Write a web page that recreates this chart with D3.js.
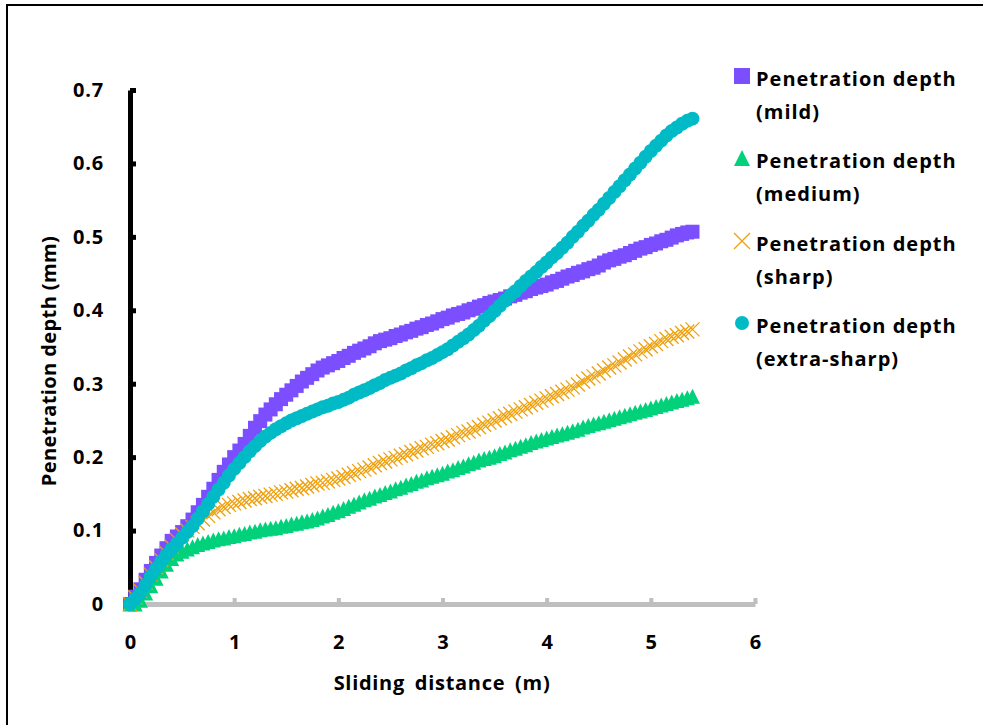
<!DOCTYPE html>
<html>
<head>
<meta charset="utf-8">
<script src="https://cdn.jsdelivr.net/npm/d3@7"></script>
<style>
  body { margin: 0; background: #fff; }
  svg text { font-family: "Open Sans", "Noto Sans", sans-serif; font-weight: bold; fill: #000; }
</style>
</head>
<body>
<div id="chart"></div>
<script>

// sliding distance (m), one row per half metre
const distance = [
  0, 0.05, 0.1, 0.15, 0.2, 0.25, 0.3, 0.35, 0.4, 0.45,
  0.5, 0.55, 0.6, 0.65, 0.7, 0.75, 0.8, 0.85, 0.9, 0.95,
  1.0, 1.05, 1.1, 1.15, 1.2, 1.25, 1.3, 1.35, 1.4, 1.45,
  1.5, 1.55, 1.6, 1.65, 1.7, 1.75, 1.8, 1.85, 1.9, 1.95,
  2.0, 2.05, 2.1, 2.15, 2.2, 2.25, 2.3, 2.35, 2.4, 2.45,
  2.5, 2.55, 2.6, 2.65, 2.7, 2.75, 2.8, 2.85, 2.9, 2.95,
  3.0, 3.05, 3.1, 3.15, 3.2, 3.25, 3.3, 3.35, 3.4, 3.45,
  3.5, 3.55, 3.6, 3.65, 3.7, 3.75, 3.8, 3.85, 3.9, 3.95,
  4.0, 4.05, 4.1, 4.15, 4.2, 4.25, 4.3, 4.35, 4.4, 4.45,
  4.5, 4.55, 4.6, 4.65, 4.7, 4.75, 4.8, 4.85, 4.9, 4.95,
  5.0, 5.05, 5.1, 5.15, 5.2, 5.25, 5.3, 5.35, 5.4
];

// penetration depth (mm)
const mild = [
  0, 0.01, 0.02, 0.033, 0.045, 0.056, 0.066, 0.076, 0.086, 0.092,
  0.098, 0.106, 0.115, 0.125, 0.135, 0.146, 0.157, 0.169, 0.18, 0.19,
  0.2, 0.209, 0.218, 0.229, 0.24, 0.249, 0.258, 0.265, 0.272, 0.279,
  0.285, 0.291, 0.297, 0.303, 0.308, 0.313, 0.318, 0.322, 0.325, 0.328,
  0.331, 0.335, 0.338, 0.342, 0.345, 0.348, 0.351, 0.355, 0.358, 0.36,
  0.362, 0.365, 0.367, 0.37, 0.372, 0.375, 0.377, 0.38, 0.382, 0.385,
  0.388, 0.39, 0.393, 0.395, 0.397, 0.4, 0.402, 0.405, 0.407, 0.41,
  0.412, 0.414, 0.416, 0.419, 0.421, 0.424, 0.426, 0.429, 0.431, 0.433,
  0.435, 0.438, 0.44, 0.443, 0.446, 0.448, 0.451, 0.453, 0.456, 0.458,
  0.461, 0.465, 0.468, 0.47, 0.473, 0.475, 0.478, 0.481, 0.484, 0.486,
  0.489, 0.491, 0.494, 0.496, 0.499, 0.502, 0.504, 0.506, 0.507
];

const medium = [
  0, 0, 0.005, 0.015, 0.025, 0.035, 0.045, 0.054, 0.062, 0.068,
  0.072, 0.075, 0.078, 0.081, 0.083, 0.085, 0.087, 0.089, 0.09, 0.092,
  0.093, 0.095, 0.096, 0.098, 0.099, 0.101, 0.102, 0.103, 0.104, 0.106,
  0.107, 0.109, 0.11, 0.112, 0.113, 0.115, 0.117, 0.12, 0.122, 0.125,
  0.127, 0.13, 0.133, 0.136, 0.139, 0.142, 0.144, 0.147, 0.149, 0.152,
  0.154, 0.157, 0.159, 0.162, 0.164, 0.167, 0.169, 0.172, 0.174, 0.176,
  0.178, 0.181, 0.183, 0.186, 0.188, 0.191, 0.193, 0.196, 0.198, 0.2,
  0.202, 0.205, 0.207, 0.21, 0.212, 0.215, 0.217, 0.22, 0.222, 0.224,
  0.226, 0.228, 0.23, 0.232, 0.234, 0.236, 0.238, 0.241, 0.243, 0.245,
  0.247, 0.249, 0.251, 0.253, 0.255, 0.257, 0.259, 0.261, 0.263, 0.265,
  0.267, 0.269, 0.271, 0.273, 0.275, 0.277, 0.279, 0.281, 0.283
];

const sharp = [
  0, 0.009, 0.018, 0.029, 0.04, 0.05, 0.06, 0.069, 0.078, 0.087,
  0.095, 0.1, 0.105, 0.11, 0.115, 0.12, 0.125, 0.129, 0.132, 0.135,
  0.137, 0.139, 0.141, 0.143, 0.144, 0.146, 0.147, 0.149, 0.15, 0.152,
  0.153, 0.155, 0.157, 0.158, 0.16, 0.162, 0.164, 0.165, 0.167, 0.169,
  0.171, 0.173, 0.176, 0.178, 0.181, 0.183, 0.186, 0.189, 0.192, 0.194,
  0.197, 0.199, 0.202, 0.204, 0.207, 0.209, 0.212, 0.214, 0.217, 0.219,
  0.222, 0.224, 0.227, 0.23, 0.233, 0.235, 0.238, 0.241, 0.244, 0.247,
  0.25, 0.253, 0.256, 0.259, 0.262, 0.265, 0.268, 0.271, 0.274, 0.277,
  0.28, 0.283, 0.286, 0.289, 0.292, 0.295, 0.299, 0.303, 0.307, 0.31,
  0.314, 0.318, 0.322, 0.325, 0.329, 0.333, 0.337, 0.34, 0.344, 0.347,
  0.351, 0.354, 0.358, 0.361, 0.364, 0.366, 0.369, 0.371, 0.374
];

const extraSharp = [
  0, 0.007, 0.015, 0.026, 0.038, 0.048, 0.058, 0.067, 0.075, 0.082,
  0.09, 0.098, 0.106, 0.116, 0.126, 0.136, 0.146, 0.156, 0.165, 0.175,
  0.184, 0.192, 0.2, 0.208, 0.215, 0.222, 0.228, 0.233, 0.238, 0.242,
  0.246, 0.25, 0.253, 0.256, 0.259, 0.262, 0.265, 0.268, 0.27, 0.273,
  0.275, 0.278, 0.281, 0.285, 0.288, 0.291, 0.294, 0.298, 0.301, 0.305,
  0.308, 0.311, 0.314, 0.318, 0.321, 0.325, 0.328, 0.332, 0.335, 0.339,
  0.343, 0.347, 0.352, 0.357, 0.362, 0.367, 0.373, 0.379, 0.386, 0.392,
  0.399, 0.406, 0.413, 0.42, 0.426, 0.433, 0.44, 0.446, 0.452, 0.459,
  0.465, 0.472, 0.478, 0.485, 0.492, 0.5, 0.507, 0.515, 0.522, 0.53,
  0.537, 0.545, 0.553, 0.561, 0.569, 0.577, 0.585, 0.593, 0.601, 0.609,
  0.617, 0.624, 0.631, 0.638, 0.644, 0.649, 0.654, 0.658, 0.661
];

const seriesNames = [
  ['Penetration depth', '(mild)'],
  ['Penetration depth', '(medium)'],
  ['Penetration depth', '(sharp)'],
  ['Penetration depth', '(extra-sharp)']
];

const xTicks = [0, 1, 2, 3, 4, 5, 6];
const yTicks = [0, 0.1, 0.2, 0.3, 0.4, 0.5, 0.6, 0.7];

// marker shapes, centred on 0,0
const markers = {
  square:   (s) => `M${-s / 2},${-s / 2}h${s}v${s}h${-s}Z`,
  triangle: (s) => `M0,${-s / 2}L${s / 2},${s / 2}L${-s / 2},${s / 2}Z`,
  cross:    (s) => `M${-s / 2},${-s / 2}L${s / 2},${s / 2}M${-s / 2},${s / 2}L${s / 2},${-s / 2}`,
  circle:   (s) => `M${s / 2},0A${s / 2},${s / 2} 0 1,1 ${-s / 2},0A${s / 2},${s / 2} 0 1,1 ${s / 2},0Z`
};

const series = [
  { values: mild,       color: '#7b4fff', shape: 'square',   size: 14 },
  { values: medium,     color: '#00d17a', shape: 'triangle', size: 15 },
  { values: sharp,      color: '#efa00b', shape: 'cross',    size: 14 },
  { values: extraSharp, color: '#00bac6', shape: 'circle',   size: 14 }
];

const width  = 983,
      height = 725;

const svg = d3.select('#chart').append('svg')
  .attr('width', width)
  .attr('height', height);

// frame (only its top and left edges fall inside the picture)
svg.append('path')
  .attr('d', 'M7,725V5H983')
  .attr('fill', 'none')
  .attr('stroke', '#000')
  .attr('stroke-width', 2);

const x = d3.scaleLinear().domain([0, 6]).range([130, 755]);
const y = d3.scaleLinear().domain([0, 0.7]).range([604, 90]);

// x axis
const xAxis = svg.append('g')
  .attr('transform', `translate(0,${y(0)})`)
  .call(d3.axisBottom(x).tickValues(xTicks).tickFormat(d3.format('d'))
    .tickSizeInner(-6).tickSizeOuter(0).tickPadding(31));

xAxis.select('.domain').attr('stroke', '#bfbfbf').attr('stroke-width', 5);
xAxis.selectAll('.tick line').attr('stroke', '#bfbfbf').attr('stroke-width', 4);
xAxis.selectAll('.tick text')
  .attr('font-size', 20)
  .attr('font-family', null)
  .attr('fill', null);

// y axis
const yAxis = svg.append('g')
  .attr('transform', `translate(${x(0)},0)`)
  .call(d3.axisLeft(y).tickValues(yTicks).tickSizeInner(-6).tickSizeOuter(0).tickPadding(26)
    .tickFormat((d) => d === 0 ? '0' : d3.format('.1f')(d)));

yAxis.select('.domain').attr('stroke', '#000').attr('stroke-width', 5);
yAxis.selectAll('.tick line').attr('stroke', '#000').attr('stroke-width', 5);
yAxis.selectAll('.tick text')
  .attr('font-size', 20)
  .attr('font-family', null)
  .attr('fill', null)
  .attr('letter-spacing', 0.8);

// axis titles
svg.append('text')
  .attr('x', 442)
  .attr('y', 690)
  .attr('text-anchor', 'middle')
  .attr('font-size', 20)
  .attr('letter-spacing', 0.7)
  .attr('word-spacing', 4)
  .text('Sliding distance (m)');

svg.append('text')
  .attr('transform', 'translate(56,361) rotate(-90)')
  .attr('text-anchor', 'middle')
  .attr('font-size', 20)
  .attr('letter-spacing', 0.4)
  .text('Penetration depth (mm)');

// series markers, first series at the bottom
series.forEach((s) => {

  const g = svg.append('g');

  const pts = g.selectAll('path')
    .data(distance.map((d, i) => [d, s.values[i]]))
    .join('path')
    .attr('transform', (d) => `translate(${x(d[0])},${y(d[1])})`)
    .attr('d', markers[s.shape](s.size));

  if (s.shape === 'cross') {
    pts.attr('fill', 'none').attr('stroke', s.color).attr('stroke-width', 1.3);
  } else {
    pts.attr('fill', s.color);
  }

});

// legend
const legendY = [86, 168, 251, 333];

series.forEach((s, i) => {

  const row = svg.append('g')
    .attr('transform', `translate(0,${legendY[i]})`);

  const m = row.append('path')
    .attr('transform', 'translate(742,-10)')
    .attr('d', markers[s.shape](s.shape === 'circle' ? 14 : 16));

  if (s.shape === 'cross') {
    m.attr('fill', 'none').attr('stroke', s.color).attr('stroke-width', 1.3);
  } else {
    m.attr('fill', s.color);
  }

  row.append('text')
    .attr('x', 756)
    .attr('y', 0)
    .attr('font-size', 20)
    .attr('letter-spacing', 1)
    .text(seriesNames[i][0]);

  row.append('text')
    .attr('x', 756)
    .attr('y', 33)
    .attr('font-size', 20)
    .attr('letter-spacing', 1)
    .text(seriesNames[i][1]);

});

</script>
</body>
</html>
